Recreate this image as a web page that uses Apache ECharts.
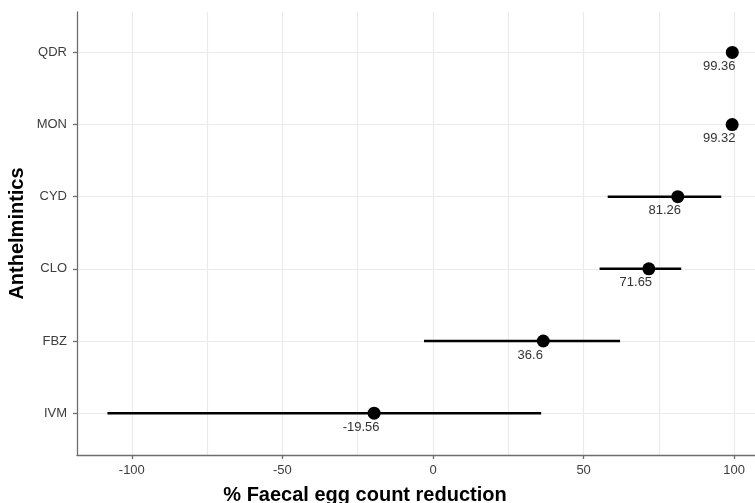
<!DOCTYPE html>
<html>
<head>
<meta charset="utf-8">
<script src="https://cdn.jsdelivr.net/npm/echarts@6/dist/echarts.min.js"></script>
<style>
  html, body { margin: 0; padding: 0; background: #fff; }
  #chart { width: 755px; height: 503px; }
</style>
</head>
<body>
<div id="chart"></div>
<script>
// drugs, top to bottom
const drugs = ['QDR', 'MON', 'CYD', 'CLO', 'FBZ', 'IVM']
const fecr = [99.36, 99.32, 81.26, 71.65, 36.6, -19.56]
const ciLow = [98.9, 98.8, 58.0, 55.3, -3.0, -108.1]
const ciHigh = [99.8, 99.8, 95.7, 82.4, 62.1, 35.9]

const xTicks = [-100, -50, 0, 50, 100]
const xGrid = [-100, -75, -50, -25, 0, 25, 50, 75, 100]
const yPos = drugs.map((d, i) => i + 1)

const chart = echarts.init(document.getElementById('chart'), null, { renderer: 'canvas' })

const axisColor = '#6e6e6e'
const gridColor = '#ebebeb'
const font = 'Liberation Sans, Arial, sans-serif'

chart.setOption({
  animation: false,
  grid: { left: 77, right: 0, top: 12, bottom: 48, containLabel: false, outerBoundsMode: 'none' },
  xAxis: {
    type: 'value',
    min: -118.2,
    max: 106.9,
    name: '% Faecal egg count reduction',
    nameLocation: 'middle',
    nameGap: 30,
    nameTextStyle: { fontFamily: font, fontSize: 20, fontWeight: 'bold', color: '#000', padding: [0, 102, 0, 0] },
    axisLine: { onZero: false, lineStyle: { color: axisColor, width: 1.3 } },
    axisTick: { show: true, customValues: xTicks, length: 4, lineStyle: { color: axisColor, width: 1.3 } },
    axisLabel: { customValues: xTicks, margin: 9, fontFamily: font, fontSize: 13, color: '#3d3d3d' },
    splitLine: { show: false }
  },
  yAxis: {
    type: 'value',
    inverse: true,
    min: 0.44,
    max: 6.58,
    name: 'Anthelmintics',
    nameLocation: 'middle',
    nameGap: 50,
    nameMoveOverlap: false,
    nameTextStyle: { fontFamily: font, fontSize: 20, fontWeight: 'bold', color: '#000' },
    axisLine: { show: true, onZero: false, lineStyle: { color: axisColor, width: 1.3 } },
    axisTick: { show: true, customValues: yPos, length: 4, lineStyle: { color: axisColor, width: 1.3 } },
    axisLabel: {
      customValues: yPos,
      margin: 10,
      fontFamily: font, fontSize: 13, color: '#3d3d3d',
      formatter: v => drugs[Math.round(v) - 1]
    },
    splitLine: { show: false }
  },
  series: [
    {
      // background grid lines
      type: 'line',
      data: [],
      z: 0,
      silent: true,
      markLine: {
        z: 0,
        silent: true,
        symbol: 'none',
        label: { show: false },
        animation: false,
        lineStyle: { color: gridColor, width: 1.2, type: 'solid' },
        emphasis: { disabled: true },
        data: xGrid.map(v => ({ xAxis: v })).concat(yPos.map(v => ({ yAxis: v })))
      }
    },
    {
      type: 'custom',
      z: 2,
      data: drugs.map((d, i) => [ciLow[i], ciHigh[i], i + 1]),
      encode: { x: [0, 1], y: 2 },
      renderItem: (params, api) => {
        const p1 = api.coord([api.value(0), api.value(2)])
        const p2 = api.coord([api.value(1), api.value(2)])
        return {
          type: 'line',
          shape: { x1: p1[0], y1: p1[1], x2: p2[0], y2: p2[1] },
          style: { stroke: '#000', lineWidth: 2.5 }
        }
      }
    },
    {
      type: 'scatter',
      z: 3,
      symbol: 'circle',
      symbolSize: 13,
      itemStyle: { color: '#000', opacity: 1 },
      label: {
        show: true,
        position: 'inside',
        offset: [-13, 14],
        formatter: p => String(p.value[0]),
        fontFamily: font,
        fontSize: 13,
        color: '#333'
      },
      data: drugs.map((d, i) => [fecr[i], i + 1])
    }
  ]
})
</script>
</body>
</html>
